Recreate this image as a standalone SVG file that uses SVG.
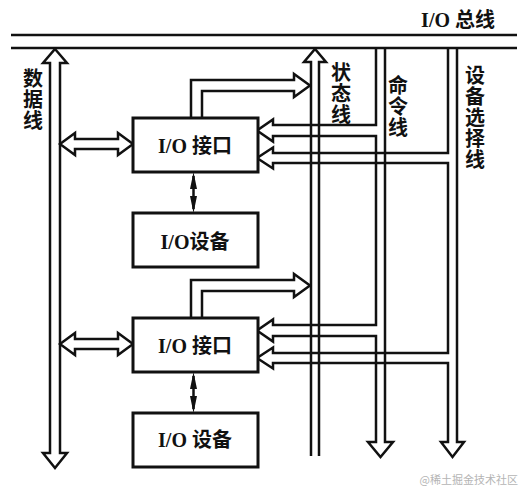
<svg xmlns="http://www.w3.org/2000/svg" width="526" height="489" viewBox="0 0 526 489">
<style>
.ln{fill:none;stroke:#111;stroke-width:2.5;stroke-linejoin:miter}
.ar{fill:#fff;stroke:#111;stroke-width:2.5;stroke-linejoin:miter}
.box{fill:#fff;stroke:#111;stroke-width:3}
.t{font-family:"Liberation Serif","Noto Sans CJK SC",serif;font-weight:bold;font-size:20px;fill:#111}
.v{font-family:"Noto Sans CJK SC",sans-serif;font-weight:bold;font-size:20px;fill:#111;writing-mode:vertical-rl;letter-spacing:1px}
.wm{font-family:"Noto Sans CJK SC",sans-serif;font-size:11px;fill:#b5b5b5}
.sa{fill:#111;stroke:none}
</style>
<rect width="526" height="489" fill="#fff"/>
<g id="connectors">
  <!-- I/O bus -->
  <line class="ln" x1="11" y1="35" x2="517" y2="35"/>
  <line class="ln" x1="11" y1="48" x2="517" y2="48"/>
  <!-- data line -->
  <path class="ar" d="M55,49 L67,63 L60,63 L60,453 L67,453 L55,468 L43,453 L50,453 L50,63 L43,63 Z"/>
  <!-- data branches -->
  <path class="ar" d="M60,144 L75,133 L75,139 L118,139 L118,133 L133,144 L118,155 L118,149 L75,149 L75,155 Z"/>
  <path class="ar" d="M60,344 L75,333 L75,339 L118,339 L118,333 L133,344 L118,355 L118,349 L75,349 L75,355 Z"/>
  <!-- status line -->
  <path class="ln" d="M311,456 L311,62 L304,62 L315,49 L326,62 L319,62 L319,456"/>
  <!-- status branches -->
  <path class="ln" d="M191,118 L191,80 L294,80 L294,74 L310,85.5 L294,97 L294,91 L202,91 L202,118"/>
  <path class="ln" d="M191,318 L191,280 L294,280 L294,274 L310,285.5 L294,297 L294,291 L202,291 L202,318"/>
  <!-- command line -->
  <path class="ln" d="M376,48 L376,125 L273,125 L273,119.5 L257,130.5 L273,141.5 L273,136 L376,136 L376,325 L273,325 L273,319.5 L257,330.5 L273,341.5 L273,336 L376,336 L376,442 L368,442 L380.5,457 L393,442 L385,442 L385,48"/>
  <!-- device select line -->
  <path class="ln" d="M448,48 L448,153 L273,153 L273,147.5 L257,158 L273,168.5 L273,163 L448,163 L448,353 L273,353 L273,347.5 L257,358 L273,368.5 L273,363 L448,363 L448,442 L441,442 L452.5,457 L464,442 L457,442 L457,48"/>
  <!-- interface to device -->
  <g>
    <line class="ln" x1="193.5" y1="176" x2="193.5" y2="209"/>
    <path class="sa" d="M193.5,172 L197,189 L190,189 Z M193.5,213 L197,196 L190,196 Z"/>
  </g>
  <g>
    <line class="ln" x1="193.5" y1="376" x2="193.5" y2="409"/>
    <path class="sa" d="M193.5,372 L197,389 L190,389 Z M193.5,413 L197,396 L190,396 Z"/>
  </g>
</g>
<g id="iface1">
  <rect class="box" x="133" y="118" width="125" height="54"/>
  <text class="t" x="195" y="153" text-anchor="middle">I/O 接口</text>
</g>
<g id="dev1">
  <rect class="box" x="133" y="213" width="125" height="54"/>
  <text class="t" x="195" y="249" text-anchor="middle">I/O设备</text>
</g>
<g id="iface2">
  <rect class="box" x="133" y="318" width="125" height="54"/>
  <text class="t" x="195" y="353" text-anchor="middle">I/O 接口</text>
</g>
<g id="dev2">
  <rect class="box" x="133" y="413" width="125" height="54"/>
  <text class="t" x="195" y="447" text-anchor="middle">I/O 设备</text>
</g>
<g id="labels">
  <text class="t" x="495" y="27" text-anchor="end">I/O 总线</text>
  <text class="v" x="33" y="68">数据线</text>
  <text class="v" x="341" y="62">状态线</text>
  <text class="v" x="398" y="75">命令线</text>
  <text class="v" x="475" y="65">设备选择线</text>
  <text class="wm" x="518" y="484" text-anchor="end">@稀土掘金技术社区</text>
</g>
</svg>
